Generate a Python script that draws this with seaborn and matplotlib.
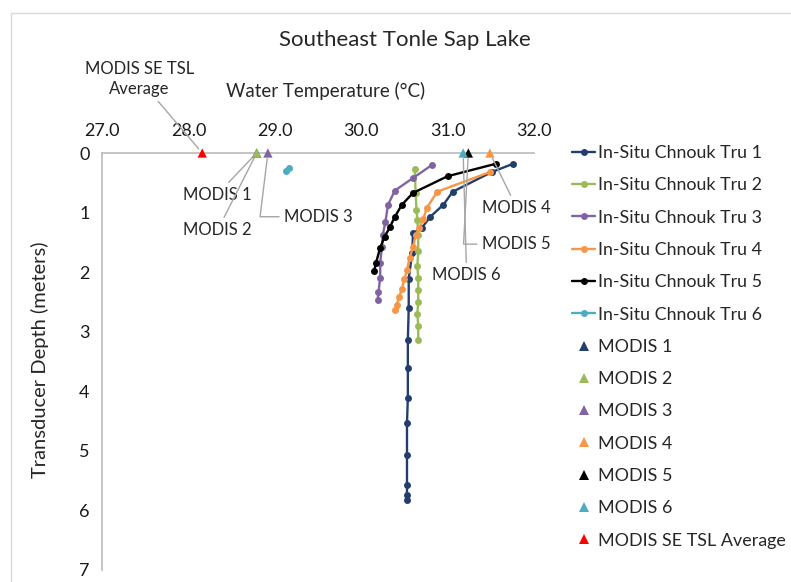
import numpy as np
import pandas as pd
import seaborn as sns
import matplotlib.pyplot as plt
from matplotlib.lines import Line2D
from matplotlib.patches import Rectangle

# in-situ profiles (temperature degC, depth m)
t1 = [31.76, 31.51, 31.06, 30.95, 30.80, 30.70, 30.60, 30.59, 30.55, 30.55, 30.54, 30.54, 30.54, 30.53, 30.53, 30.53, 30.53, 30.53]
d1 = [0.18, 0.32, 0.65, 0.87, 1.07, 1.26, 1.35, 1.68, 2.11, 2.60, 3.14, 3.61, 4.11, 4.53, 5.07, 5.57, 5.74, 5.82]
t2 = [30.62, 30.63, 30.64, 30.65, 30.66, 30.66, 30.65, 30.66, 30.66, 30.66, 30.65, 30.66, 30.66]
d2 = [0.27, 0.67, 0.95, 1.12, 1.38, 1.65, 1.90, 2.10, 2.30, 2.50, 2.70, 2.90, 3.14]
t3 = [30.82, 30.60, 30.39, 30.31, 30.28, 30.25, 30.24, 30.22, 30.22, 30.20, 30.19]
d3 = [0.20, 0.42, 0.63, 0.87, 1.16, 1.37, 1.58, 1.84, 2.09, 2.34, 2.47]
t4 = [31.49, 30.88, 30.76, 30.72, 30.67, 30.63, 30.60, 30.56, 30.53, 30.50, 30.47, 30.44, 30.41, 30.39]
d4 = [0.32, 0.65, 0.92, 1.10, 1.26, 1.38, 1.58, 1.76, 1.96, 2.12, 2.28, 2.42, 2.55, 2.63]
t5 = [31.56, 31.00, 30.60, 30.47, 30.39, 30.33, 30.27, 30.22, 30.17, 30.15]
d5 = [0.18, 0.39, 0.67, 0.87, 1.07, 1.25, 1.41, 1.59, 1.85, 1.98]
t6 = [29.13, 29.16]
d6 = [0.31, 0.26]

insitu_names = [f"In-Situ Chnouk Tru {i}" for i in range(1, 7)]
insitu_t = [t1, t2, t3, t4, t5, t6]
insitu_d = [d1, d2, d3, d4, d5, d6]

# MODIS surface temps (depth 0)
modis_names = ["MODIS 1", "MODIS 2", "MODIS 3", "MODIS 4", "MODIS 5", "MODIS 6", "MODIS SE TSL Average"]
modis_t = [28.79, 28.79, 28.92, 31.49, 31.24, 31.18, 28.16]
modis_d = [0, 0, 0, 0, 0, 0, 0]

line_colors = ["#233E6C", "#9BBB59", "#8064A2", "#F79646", "#000000", "#4BACC6"]
modis_colors = ["#233E6C", "#9BBB59", "#8064A2", "#F79646", "#000000", "#4BACC6", "#FF0000"]

sns.set_theme(style="white")
plt.rcParams["font.family"] = ["Lato", "DejaVu Sans"]

rows = []
for n, ts, ds in zip(insitu_names, insitu_t, insitu_d):
    for t, d in zip(ts, ds):
        rows.append((n, t, d))
df = pd.DataFrame(rows, columns=["series", "temp", "depth"])
mdf = pd.DataFrame({"series": modis_names, "temp": modis_t, "depth": modis_d})

fig = plt.figure(figsize=(7.91, 5.82), dpi=100)
ax = fig.add_axes([102/791, 1-570/582, 432/791, 417/582])

sns.lineplot(data=df, x="temp", y="depth", hue="series", palette=line_colors,
             sort=False, estimator=None, marker="o", markersize=5, markeredgewidth=0,
             linewidth=1.7, legend=False, ax=ax)
sns.scatterplot(data=mdf, x="temp", y="depth", hue="series", palette=modis_colors,
                marker="^", s=45, linewidth=0, legend=False, ax=ax, clip_on=False, zorder=5)

ax.set_xlim(27, 32)
ax.set_ylim(7, 0)
ax.xaxis.tick_top()
ax.set_xticks(np.arange(27, 32.1, 1))
ax.set_xticklabels([f"{v:.1f}" for v in np.arange(27, 32.1, 1)])
ax.set_yticks(range(0, 8))
ax.tick_params(length=0, labelsize=13, colors="#1a1a1a")
ax.tick_params(axis="x", pad=10)
ax.tick_params(axis="y", pad=9)
for s in ["right", "bottom"]:
    ax.spines[s].set_visible(False)
for s in ["top", "left"]:
    ax.spines[s].set_color("#BFBFBF")
    ax.spines[s].set_linewidth(1.3)
ax.set_xlabel("")
ax.set_ylabel("")

fig.text(326/791, 1-91/582, "Water Temperature (°C)", ha="center", va="center", fontsize=13.5)
fig.text(40/791, 1-360/582, "Transducer Depth (meters)", ha="center", va="center",
         rotation=90, fontsize=14.5)
fig.text(405/791, 1-40/582, "Southeast Tonle Sap Lake", ha="center", va="center", fontsize=16)

# leader-line labels
lead = dict(arrowstyle="-", color="#A6A6A6", lw=1, shrinkA=1, shrinkB=4)
ann = dict(fontsize=12, ha="center", va="center", annotation_clip=False)
ax.annotate("MODIS SE TSL\nAverage", xy=(28.16, 0), xytext=(27.43, -1.24),
            arrowprops=lead, linespacing=1.3, **ann)
ax.annotate("MODIS 1", xy=(28.79, 0), xytext=(28.33, 0.70), arrowprops=lead, **ann)
ax.annotate("MODIS 2", xy=(28.79, 0), xytext=(28.34, 1.29), arrowprops=lead, **ann)
ax.annotate("MODIS 3", xy=(28.92, 0), xytext=(29.50, 1.07),
            arrowprops=dict(lead, connectionstyle="angle,angleA=0,angleB=83,rad=0"), **ann)
ax.annotate("MODIS 4", xy=(31.49, 0), xytext=(31.80, 0.92), arrowprops=lead, **ann)
ax.annotate("MODIS 5", xy=(31.24, 0), xytext=(31.79, 1.53),
            arrowprops=dict(lead, connectionstyle="angle,angleA=0,angleB=87,rad=0"), **ann)
ax.annotate("MODIS 6", xy=(31.18, 0), xytext=(31.22, 2.05), arrowprops=lead, **ann)

# legend
handles = [Line2D([0], [0], color=c, lw=1.7, marker="o", ms=5, mew=0) for c in line_colors]
handles += [Line2D([0], [0], color=c, lw=0, marker="^", ms=6.5, mew=0) for c in modis_colors]
fig.legend(handles, insitu_names + modis_names, loc="upper left",
           bbox_to_anchor=(572/791, 1-145/582), frameon=False, fontsize=12.9,
           handlelength=1.3, handletextpad=0.15, labelspacing=0.91, borderaxespad=0,
           borderpad=0)

fig.add_artist(Rectangle((11/791, -0.01), 1.0, 1-13/582+0.01, transform=fig.transFigure,
                         fill=False, edgecolor="#D9D9D9", lw=1))

fig.savefig("out.png", dpi=100)
